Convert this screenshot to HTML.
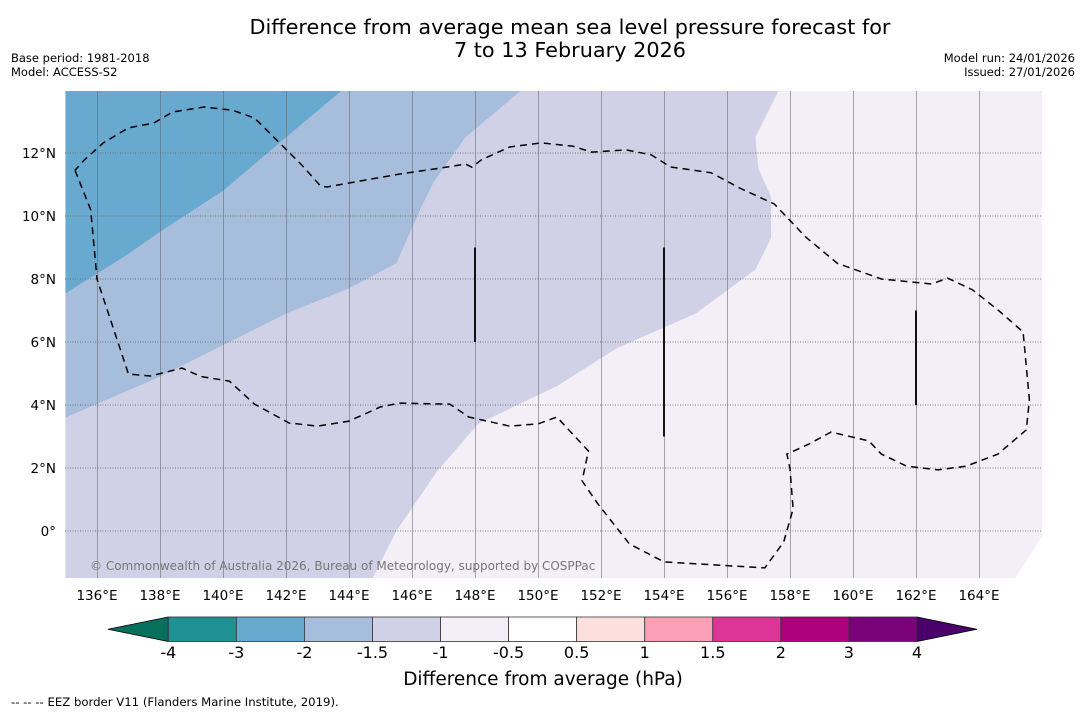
<!DOCTYPE html>
<html><head><meta charset="utf-8"><style>
body{margin:0;background:#fff;width:1085px;height:713px;overflow:hidden;font-family:"DejaVu Sans","Liberation Sans",sans-serif;}
svg text{font-family:"DejaVu Sans","Liberation Sans",sans-serif;}
</style></head><body>
<svg id="chart" width="1085" height="713">
<text x="570" y="34" font-size="20.8" text-anchor="middle">Difference from average mean sea level pressure forecast for</text>
<text x="570" y="57" font-size="20.8" text-anchor="middle">7 to 13 February 2026</text>
<text x="11" y="62" font-size="11.5">Base period: 1981-2018</text>
<text x="11" y="76" font-size="11.5">Model: ACCESS-S2</text>
<text x="1075" y="62" font-size="11.5" text-anchor="end">Model run: 24/01/2026</text>
<text x="1075" y="76" font-size="11.5" text-anchor="end">Issued: 27/01/2026</text>
<defs><clipPath id="mapclip"><rect x="65" y="91" width="977" height="487"/></clipPath></defs>
<g id="map" clip-path="url(#mapclip)"></g>
<g id="axes"></g>
<g id="cbar"></g>
<text x="543" y="685" font-size="18.5" text-anchor="middle">Difference from average (hPa)</text>
<text x="11" y="706" font-size="11.7">--  --  -- EEZ border V11 (Flanders Marine Institute, 2019).</text>
</svg>
<script>
const NS="http://www.w3.org/2000/svg";
const lonTicks=[136,138,140,142,144,146,148,150,152,154,156,158,160,162,164];
const latTicks=[0,2,4,6,8,10,12];
const cbLevels=[-4,-3,-2,-1.5,-1,-0.5,0.5,1,1.5,2,3,4];
const cbColors=["#1f9093","#67a9cf","#a6bddb","#d0d1e6","#f4eef6","#ffffff","#fde0dd","#fa9fb5","#dd3497","#ae017e","#7a0177"];
// contour boundaries (lon, lat)
const bandA=[[135,7.55],[137.0,8.8],[138.0,9.5],[140.0,10.8],[142.0,12.5],[143.9,14.1],[135,14.1]];
const bandB=[[135,3.6],[138,4.9],[140,5.9],[142,6.9],[144,7.7],[145.5,8.5],[146.3,10.3],[146.7,11.1],[147.7,12.5],[149.6,14.1],[135,14.1]];
const bandC=[[135,-1.6],[144.7,-1.6],[145.5,0.0],[146.8,1.9],[148.1,3.4],[150.6,4.6],[152.5,5.8],[155,6.9],[156.9,8.3],[157.4,9.3],[157.4,10.6],[157.0,11.5],[156.9,12.5],[157.7,14.1],[135,14.1]];
const bandD=[[166.1,0.0],[166.1,-1.6],[165.1,-1.6]];
const eez=[[135.3,11.45],[135.8,10.2],[136.0,8.0],[137.0,4.98],[137.7,4.92],[138.7,5.17],[139.3,4.9],[140.2,4.76],[141.0,4.03],[142.1,3.43],[143.0,3.33],[144.0,3.49],[145.0,3.94],[145.6,4.06],[147.2,4.03],[147.8,3.62],[149.1,3.33],[150.0,3.4],[150.6,3.62],[151.1,3.08],[151.6,2.54],[151.4,1.59],[151.9,0.86],[152.9,-0.41],[154.0,-0.98],[157.2,-1.17],[157.8,-0.35],[158.1,0.7],[158.0,1.97],[157.9,2.44],[158.6,2.76],[159.3,3.14],[160.5,2.86],[160.9,2.44],[161.7,2.06],[162.7,1.94],[163.6,2.06],[164.6,2.44],[165.5,3.21],[165.6,4.16],[165.4,6.32],[164.6,7.02],[163.8,7.65],[163.0,8.03],[162.5,7.84],[160.9,8.0],[159.5,8.5],[158.5,9.33],[157.5,10.38],[156.4,10.89],[155.5,11.37],[154.2,11.56],[153.6,11.94],[152.8,12.1],[151.7,12.03],[151.1,12.22],[150.1,12.32],[149.1,12.19],[148.2,11.78],[147.9,11.55],[147.7,11.65],[146.9,11.52],[145.6,11.33],[144.7,11.17],[143.3,10.92],[143.1,10.95],[142.5,11.62],[141.0,13.11],[140.3,13.36],[139.4,13.46],[138.4,13.3],[137.8,12.95],[137.0,12.8],[136.2,12.32],[135.6,11.78],[135.3,11.45]];
const bars=[[148,6,9],[154,3,9],[162,4,7]];
const X=lon=>97+(lon-136)*31.5, Y=lat=>531-lat*31.5;
function mk(tag,attrs,parent){const e=document.createElementNS(NS,tag);for(const k in attrs)e.setAttribute(k,attrs[k]);parent.appendChild(e);return e;}
const map=document.getElementById('map'),axes=document.getElementById('axes'),cbar=document.getElementById('cbar');
const bg=mk('rect',{x:65,y:91,width:977,height:487,fill:'#f4eef6'},map);


const pts=a=>a.map(p=>X(p[0]).toFixed(1)+','+Y(p[1]).toFixed(1)).join(' ');
[[bandC,'#d0d1e6','anomaly-band-minus1.5-to-minus1'],[bandB,'#a6bddb','anomaly-band-minus2-to-minus1.5'],[bandA,'#67a9cf','anomaly-band-minus3-to-minus2'],[bandD,'#ffffff','anomaly-band-near-zero']].forEach(b=>{
 const p=mk('polygon',{points:pts(b[0]),fill:b[1]},map);
 
 
});
lonTicks.forEach(l=>{
 const gx=Math.round(X(l))+0.5;
 const g=mk('line',{x1:gx,x2:gx,y1:91,y2:578,stroke:'#666','stroke-width':1,'stroke-opacity':0.55},map);
 
 
 const t=mk('text',{x:X(l),y:600,'font-size':13.5,'text-anchor':'middle'},axes);t.textContent=l+'°E';
 
 
});
latTicks.forEach(l=>{
 const g=mk('line',{x1:65,x2:1042,y1:Y(l),y2:Y(l),stroke:'#666','stroke-width':1,'stroke-dasharray':'1,1.5','stroke-opacity':0.8},map);
 
 
 const t=mk('text',{x:56,y:Y(l)+5,'font-size':13.5,'text-anchor':'end'},axes);t.textContent=l===0?'0°':l+'°N';
 
 
});
const e=mk('polyline',{points:pts(eez),fill:'none',stroke:'#000','stroke-width':1.5,'stroke-dasharray':'7,5'},map);


bars.forEach(b=>{
 const l=mk('line',{x1:X(b[0]),x2:X(b[0]),y1:Y(b[2]),y2:Y(b[1]),stroke:'#111','stroke-width':2},map);
 
 
});
const cp=mk('text',{x:90,y:570,'font-size':12,fill:'#777'},map);cp.textContent='© Commonwealth of Australia 2026, Bureau of Meteorology, supported by COSPPac';


// colorbar
const cx0=168.3,cw=68.06,cy=617,ch=24.5;
const la=mk('polygon',{points:`108,${cy+ch/2} ${cx0},${cy} ${cx0},${cy+ch}`,fill:'#07705c',stroke:'#000','stroke-width':0.8},cbar);


const ra=mk('polygon',{points:`977,${cy+ch/2} ${cx0+11*cw},${cy} ${cx0+11*cw},${cy+ch}`,fill:'#49006a',stroke:'#000','stroke-width':0.8},cbar);


cbColors.forEach((c,i)=>{
 const r=mk('rect',{x:cx0+i*cw,y:cy,width:cw,height:ch,fill:c,stroke:'#333','stroke-width':0.8},cbar);
 
 
});
cbLevels.forEach((v,i)=>{
 const t=mk('text',{x:cx0+i*cw,y:658,'font-size':16,'text-anchor':'middle'},cbar);t.textContent=v;
 
 
});
</script>
</body></html>
